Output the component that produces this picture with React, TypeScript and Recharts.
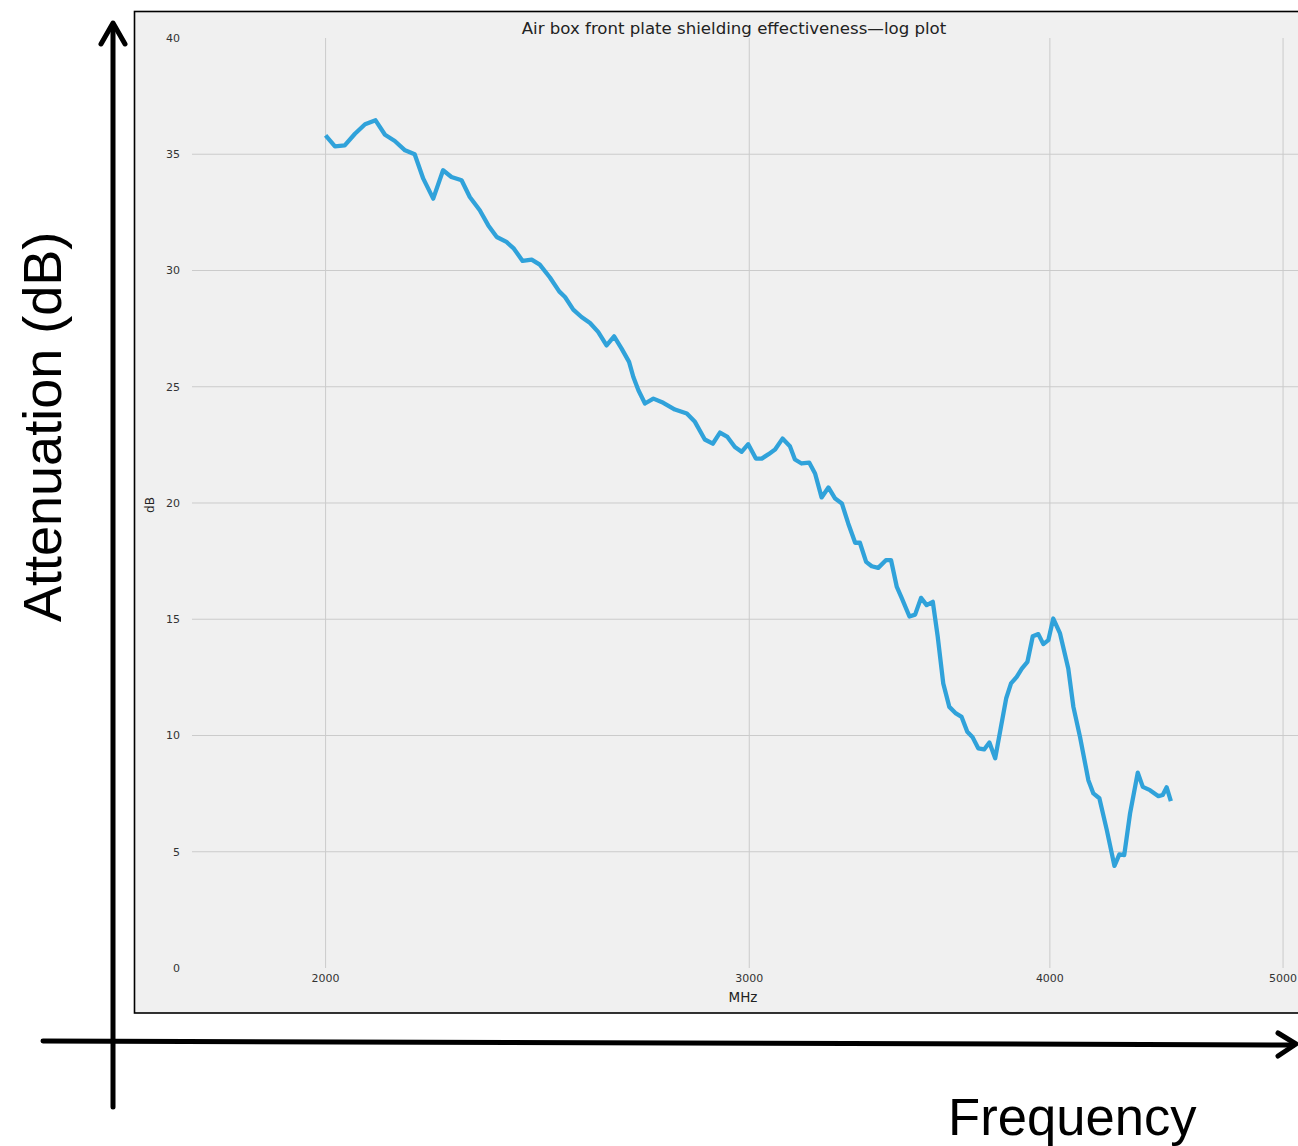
import React from "react";
import { CartesianGrid, Line, LineChart, XAxis, YAxis } from "recharts";

// frequency (MHz) of each vertex
const freqMHz = [
	2000, 2018, 2037, 2057, 2077, 2098, 2117, 2137, 2158, 2178,
	2196, 2217, 2238, 2256, 2278, 2296, 2318, 2337, 2356, 2378,
	2395, 2415, 2436, 2455, 2479, 2501, 2515, 2535, 2555, 2576,
	2596, 2617, 2636, 2655, 2674, 2685, 2698, 2715, 2737, 2763,
	2794, 2826, 2848, 2875, 2897, 2917, 2938, 2959, 2978, 2997,
	3019, 3036, 3056, 3075, 3097, 3119, 3134, 3154, 3177, 3195,
	3215, 3236, 3257, 3278, 3298, 3320, 3335, 3355, 3373, 3394,
	3419, 3436, 3455, 3471, 3497, 3516, 3536, 3555, 3576, 3593,
	3612, 3633, 3656, 3676, 3696, 3715, 3735, 3756, 3775, 3796,
	3816, 3836, 3854, 3875, 3894, 3915, 3935, 3956, 3975, 3994,
	4013, 4039, 4071, 4091, 4117, 4150, 4170, 4194, 4224, 4255,
	4275, 4295, 4319, 4351, 4372, 4402, 4438, 4456, 4473, 4491
];

// shielding effectiveness (dB)
const attenuationDb = [
	35.81, 35.34, 35.38, 35.88, 36.29, 36.46, 35.84, 35.57, 35.17, 35.0,
	33.95, 33.09, 34.31, 34.02, 33.88, 33.16, 32.59, 31.94, 31.44, 31.23,
	30.94, 30.41, 30.47, 30.25, 29.7, 29.1, 28.86, 28.32, 28.0, 27.74,
	27.36, 26.78, 27.17, 26.64, 26.07, 25.42, 24.85, 24.28, 24.49, 24.31,
	24.02, 23.85, 23.49, 22.73, 22.55, 23.03, 22.84, 22.41, 22.2, 22.53,
	21.91, 21.91, 22.1, 22.3, 22.77, 22.44, 21.87, 21.7, 21.74, 21.27,
	20.24, 20.67, 20.19, 19.98, 19.12, 18.29, 18.29, 17.47, 17.28, 17.21,
	17.54, 17.54, 16.39, 15.92, 15.12, 15.2, 15.92, 15.61, 15.75, 14.24,
	12.24, 11.23, 10.95, 10.8, 10.16, 9.92, 9.45, 9.4, 9.7, 9.02,
	10.31, 11.59, 12.24, 12.52, 12.88, 13.17, 14.27, 14.36, 13.93, 14.1,
	15.03, 14.39, 12.88, 11.23, 9.94, 8.08, 7.51, 7.3, 5.93, 4.39,
	4.89, 4.86, 6.65, 8.4, 7.79, 7.65, 7.39, 7.44, 7.77, 7.18
];

const xTicks = [2000, 3000, 4000, 5000];
const yTicks = [0, 5, 10, 15, 20, 25, 30, 35, 40];
const gridY = [5, 10, 15, 20, 25, 30, 35];

const data = freqMHz.map((f, i) => ({ f, db: attenuationDb[i] }));

const mplFont = "'DejaVu Sans', sans-serif";
const slideFont = "'Liberation Sans', Arial, sans-serif";

export default function App() {
	return (
		<div
			style={{
				position: "absolute",
				left: 0,
				top: 0,
				width: 1298,
				height: 1146,
				overflow: "hidden",
				background: "#fff"
			}}
		>
			{/* screenshot frame behind the plot */}
			<svg width={1298} height={1146} style={{ position: "absolute", left: 0, top: 0 }}>
				<rect x={134.5} y={11.5} width={1200} height={1001.5} fill="#f0f0f0" stroke="#000" strokeWidth={1.6} />
			</svg>

			<div style={{ position: "absolute", left: 0, top: 0 }}>
				<LineChart
					width={1298}
					height={1146}
					data={data}
					margin={{ top: 38, right: 0, bottom: 148, left: 132 }}
				>
					<CartesianGrid stroke="#cbcbcb" strokeWidth={1} horizontalValues={gridY} verticalValues={xTicks} />
					<XAxis
						dataKey="f"
						type="number"
						scale="log"
						domain={[1760, 5072]}
						allowDataOverflow
						ticks={xTicks}
						tickLine={false}
						axisLine={false}
						tickSize={0}
						tickMargin={6}
						height={30}
						tick={{ fontSize: 11, fill: "#333", fontFamily: mplFont }}
					/>
					<YAxis
						type="number"
						domain={[0, 40]}
						ticks={yTicks}
						tickLine={false}
						axisLine={false}
						tickSize={0}
						tickMargin={12}
						width={60}
						tick={{ fontSize: 11, fill: "#333", fontFamily: mplFont }}
					/>
					<Line
						dataKey="db"
						type="linear"
						stroke="#30a2da"
						strokeWidth={4.3}
						strokeLinejoin="round"
						dot={false}
						activeDot={false}
						isAnimationActive={false}
					/>
				</LineChart>
			</div>

			{/* titles and the slide's hand-drawn axes */}
			<svg width={1298} height={1146} style={{ position: "absolute", left: 0, top: 0 }}>
				<text x={734} y={34} textAnchor="middle" fontSize={16.6} fill="#222" fontFamily={mplFont}>
					Air box front plate shielding effectiveness—log plot
				</text>
				<text x={743} y={1002} textAnchor="middle" fontSize={13.5} fill="#222" fontFamily={mplFont}>
					MHz
				</text>
				<text
					x={154}
					y={505}
					textAnchor="middle"
					fontSize={12}
					fill="#222"
					fontFamily={mplFont}
					transform="rotate(-90 154 505)"
				>
					dB
				</text>

				<g stroke="#000" strokeWidth={5} fill="none" strokeLinecap="round" strokeLinejoin="round">
					<line x1={113} y1={1107} x2={113} y2={25} />
					<polyline points="101,44 113,23 125,44" />
					<line x1={43} y1={1041} x2={1294} y2={1045} />
					<polyline points="1278,1033 1296,1044 1278,1056" />
				</g>

				<text
					x={61}
					y={622}
					fontSize={54}
					fill="#000"
					fontFamily={slideFont}
					transform="rotate(-90 61 622)"
				>
					Attenuation (dB)
				</text>
				<text x={948} y={1135} fontSize={52.6} fill="#000" fontFamily={slideFont}>
					Frequency
				</text>
			</svg>
		</div>
	);
}
